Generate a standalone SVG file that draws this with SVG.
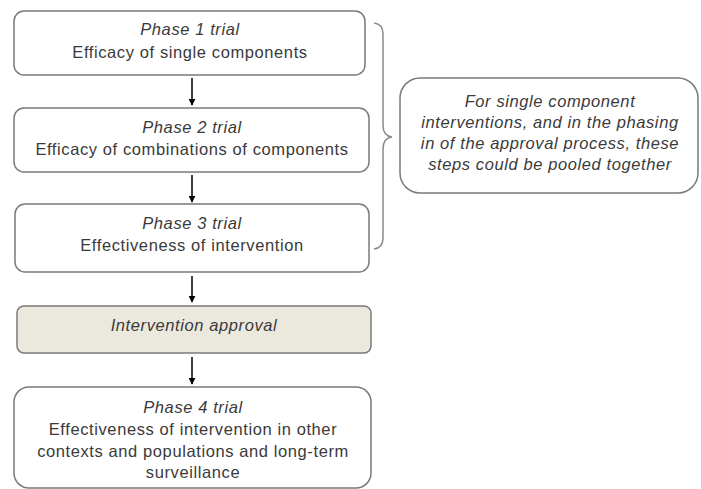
<svg xmlns="http://www.w3.org/2000/svg" width="701" height="489" viewBox="0 0 701 489">
<defs>
<style>
.box{fill:#fff;stroke:#7a7a7a;stroke-width:1.5}
.appr{fill:#ebe8dd;stroke:#7a7a7a;stroke-width:1.5}
text{font-family:"Liberation Sans",Arial,sans-serif;font-size:16.5px;letter-spacing:0.6px;fill:#3a3a3a;text-anchor:middle}
.it{font-style:italic}
.conn{stroke:#000;stroke-width:1.5;fill:none}
.brace{stroke:#8a8a8a;stroke-width:1.5;fill:none}
</style>
<marker id="ah" viewBox="0 0 10 10" refX="9" refY="5" markerWidth="7" markerHeight="7" markerUnits="userSpaceOnUse" orient="auto">
<path d="M0,0 L10,5 L0,10 z" fill="#000"/>
</marker>
</defs>
<rect width="701" height="489" fill="#fff"/>
<g id="phase1">
<rect class="box" x="14" y="11" width="351" height="64" rx="10"/>
<text class="it" x="190" y="35">Phase 1 trial</text>
<text x="190" y="58">Efficacy of single components</text>
</g>
<g id="phase2">
<rect class="box" x="14" y="108" width="355" height="64" rx="10"/>
<text class="it" x="192" y="133">Phase 2 trial</text>
<text x="192" y="155">Efficacy of combinations of components</text>
</g>
<g id="phase3">
<rect class="box" x="15" y="204" width="354" height="68" rx="10"/>
<text class="it" x="192" y="229">Phase 3 trial</text>
<text x="192" y="251">Effectiveness of intervention</text>
</g>
<g id="approval">
<rect class="appr" x="17" y="306" width="354" height="47" rx="7"/>
<text class="it" x="194" y="331">Intervention approval</text>
</g>
<g id="phase4">
<rect class="box" x="14" y="387" width="357" height="101" rx="15"/>
<text class="it" x="193" y="413">Phase 4 trial</text>
<text x="193" y="435">Effectiveness of intervention in other</text>
<text x="193" y="457">contexts and populations and long-term</text>
<text x="193" y="478">surveillance</text>
</g>
<g id="note">
<rect class="box" x="400" y="78" width="298" height="115" rx="20"/>
<text class="it" x="550" y="107">For single component</text>
<text class="it" x="550" y="128">interventions, and in the phasing</text>
<text class="it" x="550" y="149">in of the approval process, these</text>
<text class="it" x="550" y="170">steps could be pooled together</text>
</g>
<g id="connectors">
<line class="conn" x1="192" y1="78" x2="192" y2="105" marker-end="url(#ah)"/>
<line class="conn" x1="192" y1="175" x2="192" y2="202" marker-end="url(#ah)"/>
<line class="conn" x1="192" y1="276" x2="192" y2="302" marker-end="url(#ah)"/>
<line class="conn" x1="192" y1="357" x2="192" y2="384" marker-end="url(#ah)"/>
<path class="brace" d="M374,23 Q383,24 383,34 L383,125 Q383,136 392,137 Q383,138 383,149 L383,238 Q383,248 374,249"/>
</g>
</svg>
